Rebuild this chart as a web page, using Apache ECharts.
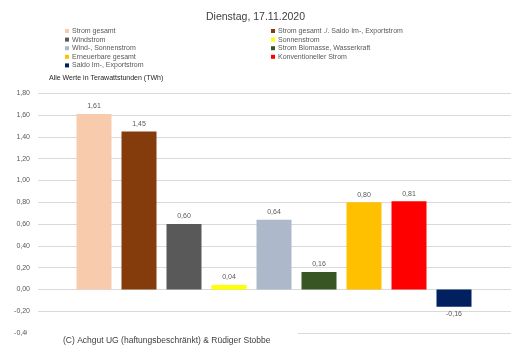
<!DOCTYPE html>
<html>
<head>
<meta charset="utf-8">
<script src="https://cdn.jsdelivr.net/npm/echarts@6/dist/echarts.min.js"></script>
<style>
  html, body { margin: 0; padding: 0; background: #fff; }
  #chart { width: 511px; height: 351px; }
</style>
</head>
<body>
<div id="chart"></div>
<script>
// Daten (TWh)
var kategorien = ['Strom gesamt', 'Strom gesamt ./. Saldo Im-, Exportstrom', 'Windstrom', 'Sonnenstrom',
  'Wind-, Sonnenstrom', 'Strom Biomasse, Wasserkraft', 'Erneuerbare gesamt', 'Konventioneller Strom',
  'Saldo Im-, Exportstrom'];
var werte = [1.61, 1.45, 0.60, 0.04, 0.64, 0.16, 0.80, 0.81, -0.16];
var farben = ['#F8CBAD', '#843C0C', '#595959', '#FFFF00', '#ADB9CA', '#375623', '#FFC000', '#FF0000', '#002060'];
var yTicks = [-0.4, -0.2, 0, 0.2, 0.4, 0.6, 0.8, 1.0, 1.2, 1.4, 1.6, 1.8];

var font = 'Liberation Sans';
var myChart = echarts.init(document.getElementById('chart'));

function komma(v) {
  return v.toFixed(2).replace('.', ',');
}

// eine Serie je Kategorie, damit die Legende passt
var serien = kategorien.map(function (name, i) {
  return {
    name: name,
    type: 'bar',
    xAxisIndex: 1,
    yAxisIndex: 1,
    stack: 'alle',
    barWidth: 35,
    itemStyle: { color: farben[i] },
    label: {
      show: true,
      position: werte[i] < 0 ? 'bottom' : 'top',
      distance: 4,
      fontFamily: font,
      fontSize: 7,
      color: '#595959',
      formatter: function (p) { return komma(p.value); }
    },
    data: kategorien.map(function (c, j) { return j === i ? werte[j] : '-'; })
  };
});

var legendeLinks = kategorien.filter(function (c, i) { return i % 2 === 0; });
var legendeRechts = kategorien.filter(function (c, i) { return i % 2 === 1; });
var legendeStil = {
  fontFamily: font, fontSize: 7, color: '#595959', lineHeight: 8, padding: [0, 0, 0, -2]
};

var option = {
  animation: false,
  backgroundColor: '#fff',
  title: {
    text: 'Dienstag, 17.11.2020',
    left: 'center',
    top: 7,
    textStyle: { fontFamily: font, fontSize: 10.5, fontWeight: 'normal', color: '#404040' }
  },
  legend: [
    {
      data: legendeLinks, orient: 'vertical', left: 65, top: 27, padding: 0,
      itemWidth: 4, itemHeight: 4, itemGap: 0.6, icon: 'rect',
      selectedMode: false, textStyle: legendeStil
    },
    {
      data: legendeRechts, orient: 'vertical', left: 271, top: 27, padding: 0,
      itemWidth: 4, itemHeight: 4, itemGap: 0.6, icon: 'rect',
      selectedMode: false, textStyle: legendeStil
    }
  ],
  grid: [
    { left: 38, right: 0, top: 93.3, bottom: 18 },
    { left: 71.5, right: 34.5, top: 93.3, bottom: 18 }
  ],
  xAxis: [
    { gridIndex: 0, type: 'category', data: kategorien, show: false },
    { gridIndex: 1, type: 'category', data: kategorien, show: false }
  ],
  yAxis: [
    {
      gridIndex: 0, type: 'value', min: yTicks[0], max: yTicks[yTicks.length - 1], interval: 0.2,
      axisLine: { show: false }, axisTick: { show: false },
      splitLine: { lineStyle: { color: '#D9D9D9', width: 1 } },
      axisLabel: {
        margin: 8, fontFamily: font, fontSize: 7, color: '#595959',
        formatter: function (v) { return komma(v); }
      }
    },
    {
      gridIndex: 1, type: 'value', min: yTicks[0], max: yTicks[yTicks.length - 1], interval: 0.2,
      show: false, splitLine: { show: false }
    }
  ],
  graphic: [
    {
      type: 'text', left: 49, top: 75,
      style: { text: 'Alle Werte in Terawattstunden (TWh)', fontFamily: font, fontSize: 7, fill: '#262626' }
    },
    {
      type: 'rect', left: 27, top: 329, z: 10,
      shape: { width: 271, height: 22 },
      style: { fill: '#fff' }
    },
    {
      type: 'text', left: 63, top: 336, z: 11,
      style: { text: '(C) Achgut UG (haftungsbeschränkt) & Rüdiger Stobbe', fontFamily: font, fontSize: 8.5, fill: '#404040' }
    }
  ],
  series: serien
};

myChart.setOption(option);
</script>
</body>
</html>
